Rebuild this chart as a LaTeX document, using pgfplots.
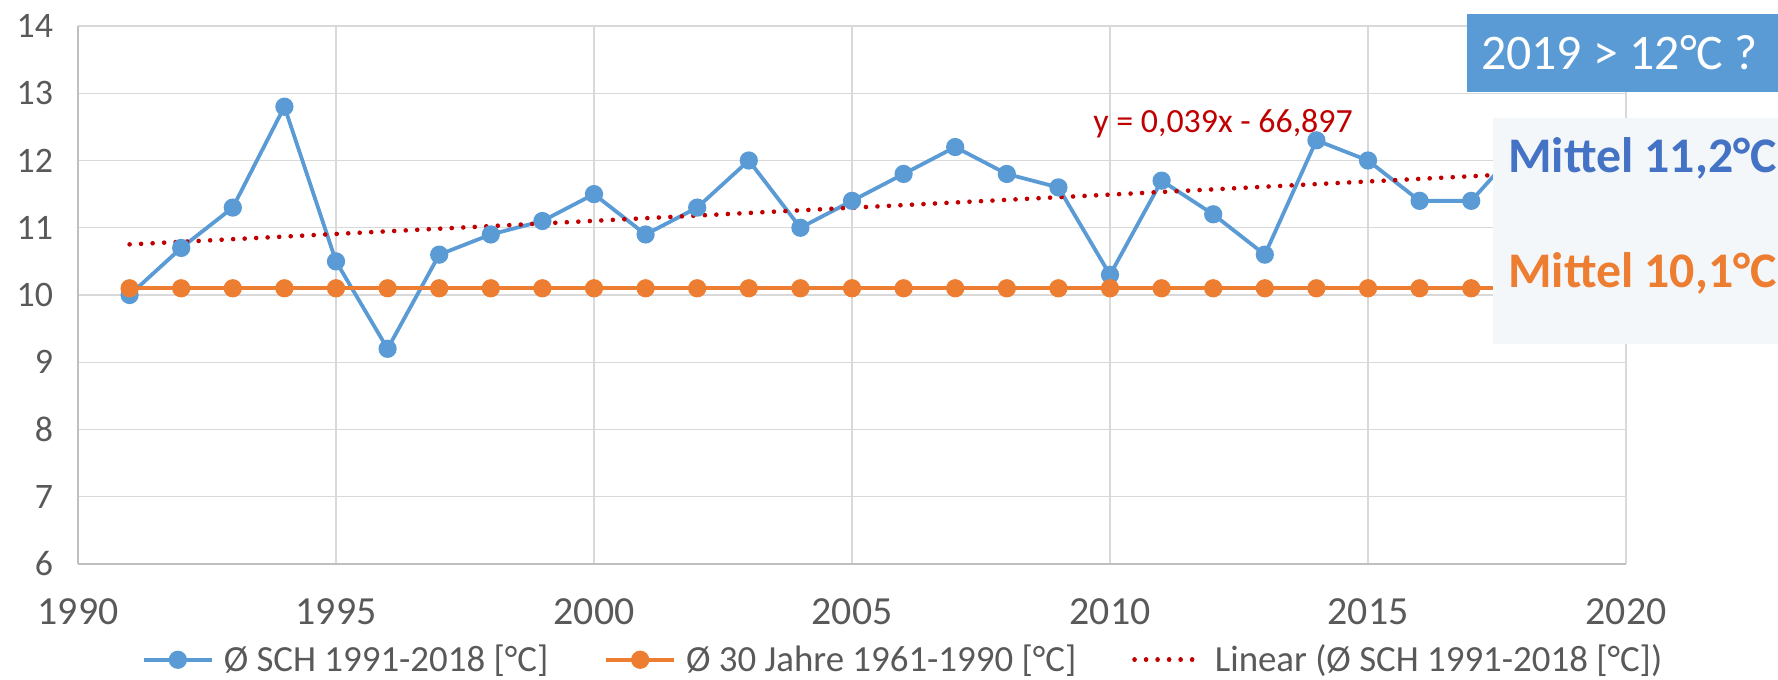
\documentclass[border=0pt]{standalone}
\usepackage{pgfplots}
\pgfplotsset{compat=1.18}
\usepackage{fontspec}
\setmainfont{Carlito}
\definecolor{cblue}{HTML}{5B9BD5}
\definecolor{corange}{HTML}{ED7D31}
\definecolor{cred}{HTML}{C00000}
\definecolor{cgrid}{HTML}{D9D9D9}
\definecolor{caxis}{HTML}{BFBFBF}
\definecolor{ctick}{HTML}{595959}
\definecolor{cdark}{HTML}{4472C4}
\definecolor{clight}{HTML}{F3F7FA}
\begin{document}
\begin{tikzpicture}[x=1bp,y=1bp]
\begin{axis}[name=ax, at={(0,0)}, anchor=south west,
  scale only axis, width=774bp, height=269bp,
  xmin=1990, xmax=2020, ymin=6, ymax=14,
  xtick={1990,1995,...,2020}, ytick={6,7,...,14},
  grid=major, major grid style={draw=cgrid, line width=0.7bp},
  axis x line*=bottom, axis y line*=left,
  axis line style={draw=caxis, line width=0.9bp, -},
  major tick length=0pt,
  /pgf/number format/assume math mode=true,
  /pgf/number format/1000 sep={},
  tick label style={text=ctick},
  yticklabel style={font=\fontsize{18}{21}\selectfont, xshift=-9bp},
  xticklabel style={font=\fontsize{20}{24}\selectfont, yshift=-14bp},
  legend style={at={(axis description cs:0.533,-0.178)}, anchor=center,
    draw=none, fill=none, font=\fontsize{18.5}{22}\selectfont, text=ctick,
    nodes={inner xsep=1bp}},
  legend columns=3,
  legend image code/.code={\draw[mark repeat=2,mark phase=2] plot coordinates {(0bp,0bp) (17bp,0bp) (34bp,0bp)};},
  clip=false,
]
\addplot[cblue, line width=1.9bp, mark=*, mark size=3.6bp, mark options={fill=cblue, draw=cblue, solid}] coordinates {
(1991,10.0) (1992,10.7) (1993,11.3) (1994,12.8) (1995,10.5) (1996,9.2) (1997,10.6)
(1998,10.9) (1999,11.1) (2000,11.5) (2001,10.9) (2002,11.3) (2003,12.0) (2004,11.0)
(2005,11.4) (2006,11.8) (2007,12.2) (2008,11.8) (2009,11.6) (2010,10.3) (2011,11.7)
(2012,11.2) (2013,10.6) (2014,12.3) (2015,12.0) (2016,11.4) (2017,11.4) (2018,12.25)
};
\addlegendentry{\hspace{4bp}Ø SCH 1991-2018 [°C]\rule{27bp}{0pt}}
\addplot[corange, line width=1.9bp, mark=*, mark size=3.6bp, mark options={fill=corange, draw=corange, solid}] coordinates {
(1991,10.1) (1992,10.1) (1993,10.1) (1994,10.1) (1995,10.1) (1996,10.1) (1997,10.1)
(1998,10.1) (1999,10.1) (2000,10.1) (2001,10.1) (2002,10.1) (2003,10.1) (2004,10.1)
(2005,10.1) (2006,10.1) (2007,10.1) (2008,10.1) (2009,10.1) (2010,10.1) (2011,10.1)
(2012,10.1) (2013,10.1) (2014,10.1) (2015,10.1) (2016,10.1) (2017,10.1) (2018,10.1)
};
\addlegendentry{\hspace{4bp}Ø 30 Jahre 1961-1990 [°C]\rule{27bp}{0pt}}
\addplot[cred, line width=2.3bp, line cap=round, dash pattern=on 0.01bp off 5.75bp] coordinates {
(1991,10.752) (2018,11.805)
};
\addlegendentry{\hspace{4bp}Linear (Ø SCH 1991-2018 [°C])}
\node[text=cred, font=\fontsize{17}{20}\selectfont] at (axis cs:2012.19,12.55) {y = 0,039x - 66,897};
\end{axis}
% overlay boxes
\fill[cblue] (694.5,236) rectangle (850,275);
\node[text=white, font=\fontsize{25}{30}\selectfont] at (770.75,255.5) {2019 > 12°C ?};
\fill[clight] (707.5,110) rectangle (850,223);
\node[text=cdark, font=\bfseries\fontsize{25}{30}\selectfont] at (782.25,203) {Mittel 11,2°C};
\node[text=corange, font=\bfseries\fontsize{25}{30}\selectfont] at (782.25,145.5) {Mittel 10,1°C};
\pgfresetboundingbox
\path (-39,-57.5) rectangle (850,282);
\end{tikzpicture}
\end{document}
